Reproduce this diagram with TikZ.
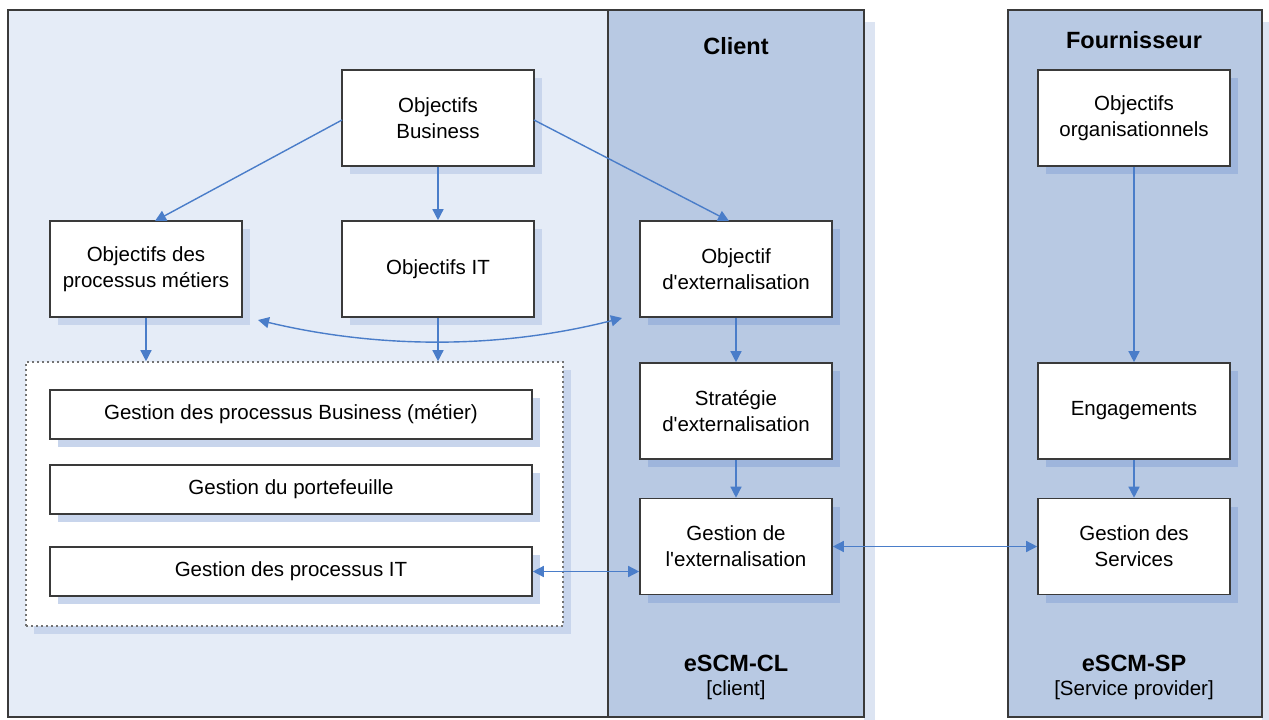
\documentclass[tikz,border=0pt]{standalone}
\usepackage{fontspec}
\setmainfont{Liberation Sans}
\usetikzlibrary{arrows.meta,shadows}
\definecolor{panelL}{HTML}{E5ECF7}
\definecolor{panelC}{HTML}{B8C9E3}
\definecolor{shadL}{HTML}{C8D5EC}
\definecolor{shadC}{HTML}{9EB5DC}
\definecolor{pshad}{HTML}{DCE4F2}
\definecolor{arr}{HTML}{4A7DC9}
\definecolor{edge}{HTML}{3A3A3A}
\tikzset{
  panel/.style={draw=edge, line width=1.6pt, minimum height=707pt, inner sep=0pt},
  box/.style={draw=edge, fill=white, line width=1.6pt, align=center, inner sep=0pt,
    minimum width=192pt, minimum height=96pt,
    font=\fontsize{20.5}{26}\selectfont},
  shL/.style={drop shadow={shadow xshift=8pt, shadow yshift=-8pt, fill=shadL, opacity=1}},
  shC/.style={drop shadow={shadow xshift=8pt, shadow yshift=-8pt, fill=shadC, opacity=1}},
  wide/.style={minimum width=482pt, minimum height=49pt},
  title/.style={font=\bfseries\fontsize{23.5}{28}\selectfont, inner sep=0pt},
  sub/.style={font=\fontsize{20.5}{26}\selectfont, inner sep=0pt},
  conn/.style={draw=arr, line width=1.4pt, -{Triangle[length=11pt,width=11pt]}},
  dconn/.style={draw=arr, line width=1.4pt, {Triangle[length=11pt,width=11pt]}-{Triangle[length=11pt,width=11pt]}}
}
\begin{document}
\begin{tikzpicture}[x=1pt, y=-1pt]
\useasboundingbox (0,0) rectangle (1269,720);
% panel shadows
\fill[pshad] (864,22) rectangle (875,720);
\fill[pshad] (1262,22) rectangle (1269,720);
% panels
\node[panel, fill=panelL, minimum width=600pt] (left) at (308,363.5) {};
\node[panel, fill=panelC, minimum width=256pt] (client) at (736,363.5) {};
\node[panel, fill=panelC, minimum width=254pt] (four) at (1135,363.5) {};
% titles
\node[title] (tc) at (736,46) {Client};
\node[title] (tf) at (1134,40) {Fournisseur};
\node[title] (ecl) at (736,663) {eSCM-CL};
\node[sub] (ccl) at (736,690) {[client]};
\node[title] (esp) at (1134,663) {eSCM-SP};
\node[sub] (csp) at (1134,690) {[Service provider]};
% container
\node[draw=black!55, dash pattern=on 1.6pt off 3.4pt, line width=1.6pt, fill=white, minimum width=537pt, minimum height=264pt, inner sep=0pt, shL] (cont) at (294.5,494) {};
% boxes
\node[box, shL] (ob) at (438,118) {Objectifs\\Business};
\node[box, shL] (opm) at (146,269) {Objectifs des\\processus métiers};
\node[box, shL] (oit) at (438,269) {Objectifs IT};
\node[box, shC] (oe) at (736,269) {Objectif\\d\textquotesingle externalisation};
\node[box, shC] (se) at (736,411) {Stratégie\\d\textquotesingle externalisation};
\node[box, shC] (ge) at (736,546.5) {Gestion de\\l\textquotesingle externalisation};
\node[box, shC] (oo) at (1134,118) {Objectifs\\organisationnels};
\node[box, shC] (eng) at (1134,411) {Engagements};
\node[box, shC] (gs) at (1134,546.5) {Gestion des\\Services};
\node[box, wide, shL] (gpb) at (291,414.5) {Gestion des processus Business (métier)};
\node[box, wide, shL] (gp) at (291,489.5) {Gestion du portefeuille};
\node[box, wide, shL] (gpit) at (291,571.5) {Gestion des processus IT};
% connectors
\coordinate (obw) at (342,120);
\coordinate (obe) at (534,120);
\coordinate (opmt) at (155,221);
\coordinate (oet) at (729,221);
\draw[conn] (obw) -- (opmt);
\draw[conn] (ob.south) -- (oit.north);
\draw[conn] (obe) -- (oet);
\draw[conn] (opm.south) -- (opm.south |- cont.north);
\draw[conn] (oit.south) -- (oit.south |- cont.north);
\coordinate (c1) at (258,320);
\coordinate (c2) at (622,318);
\draw[dconn] (c1) .. controls (380,349) and (500,349) .. (c2);
\draw[conn] (oe.south) -- (se.north);
\draw[conn] (se.south) -- (ge.north);
\draw[conn] (oo.south) -- (eng.north);
\draw[conn] (eng.south) -- (gs.north);
\draw[dconn] (gpit.east) -- (gpit.east -| ge.west);
\draw[dconn] (ge.east) -- (ge.east -| gs.west);
\end{tikzpicture}
\end{document}
